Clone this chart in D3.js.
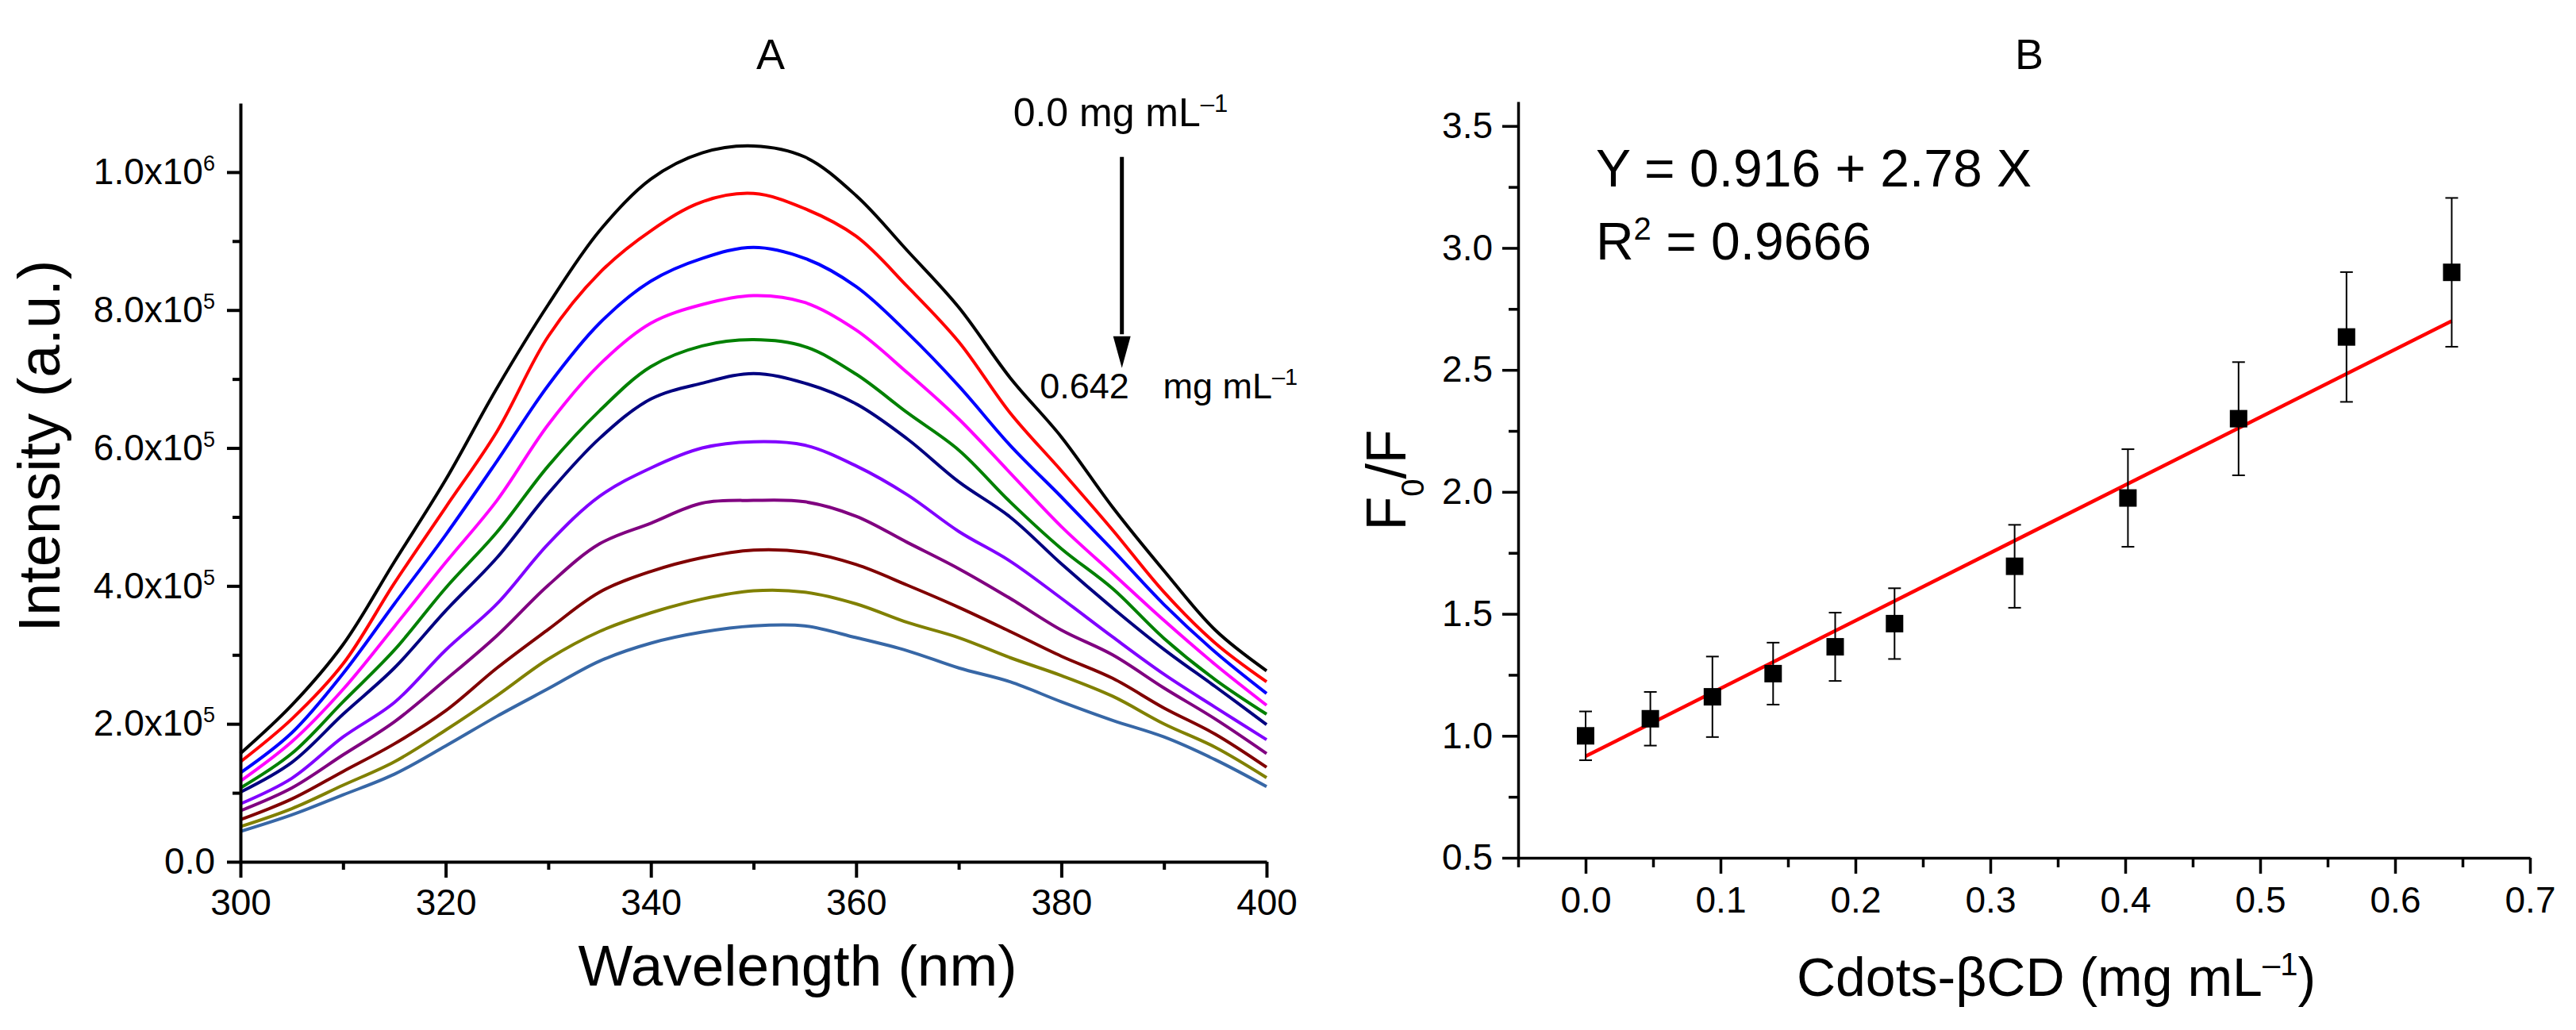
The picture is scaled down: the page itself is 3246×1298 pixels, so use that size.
<!DOCTYPE html>
<html>
<head>
<meta charset="utf-8">
<title>Fluorescence quenching by Cdots-βCD</title>
<script src="https://cdn.jsdelivr.net/npm/d3@7"></script>
<style>
  html, body { margin: 0; padding: 0; background: #fff; }
  svg { display: block; }
</style>
</head>
<body>
<svg id="chart"></svg>
<script>
// ---- panel A: emission spectra (intensity in units of 1e5) ----
var wavelengths = [300, 305, 310, 315, 320, 325, 330, 335, 340, 345, 350,
                   355, 360, 365, 370, 375, 380, 385, 390, 395, 400];

var spectrum000 = [1.57, 2.27, 3.15, 4.35, 5.54, 6.87, 8.08, 9.15, 9.90, 10.28, 10.38, 10.22, 9.66, 8.86, 8.04, 7.02, 6.16, 5.14, 4.22, 3.36, 2.77];
var spectrum048 = [1.45, 2.07, 2.87, 4.04, 5.14, 6.24, 7.62, 8.54, 9.15, 9.57, 9.69, 9.47, 9.07, 8.34, 7.54, 6.51, 5.67, 4.81, 3.91, 3.17, 2.61];
var spectrum094 = [1.29, 1.87, 2.73, 3.74, 4.74, 5.81, 6.91, 7.81, 8.42, 8.75, 8.91, 8.75, 8.34, 7.67, 6.90, 6.04, 5.29, 4.52, 3.73, 3.04, 2.44];
var spectrum139 = [1.17, 1.74, 2.50, 3.41, 4.34, 5.24, 6.34, 7.21, 7.81, 8.08, 8.21, 8.11, 7.71, 7.09, 6.42, 5.64, 4.86, 4.18, 3.50, 2.86, 2.27];
var spectrum185 = [1.07, 1.57, 2.32, 3.07, 3.97, 4.78, 5.74, 6.54, 7.18, 7.48, 7.57, 7.47, 7.07, 6.51, 5.97, 5.22, 4.54, 3.96, 3.24, 2.64, 2.14];
var spectrum229 = [1.01, 1.44, 2.14, 2.81, 3.64, 4.41, 5.34, 6.14, 6.71, 6.94, 7.08, 6.94, 6.64, 6.13, 5.51, 5.00, 4.32, 3.68, 3.08, 2.54, 1.99];
var spectrum318 = [0.84, 1.21, 1.81, 2.31, 3.07, 3.74, 4.61, 5.30, 5.71, 6.00, 6.09, 6.04, 5.74, 5.32, 4.79, 4.36, 3.82, 3.26, 2.72, 2.24, 1.77];
var spectrum402 = [0.74, 1.07, 1.55, 2.03, 2.64, 3.28, 4.01, 4.61, 4.91, 5.20, 5.24, 5.22, 5.01, 4.63, 4.25, 3.82, 3.36, 3.00, 2.52, 2.07, 1.57];
var spectrum484 = [0.61, 0.91, 1.31, 1.71, 2.19, 2.81, 3.37, 3.91, 4.21, 4.41, 4.52, 4.49, 4.31, 4.01, 3.69, 3.34, 2.98, 2.66, 2.23, 1.85, 1.37];
var spectrum564 = [0.51, 0.77, 1.11, 1.45, 1.91, 2.41, 2.94, 3.34, 3.61, 3.81, 3.93, 3.91, 3.74, 3.47, 3.25, 2.96, 2.70, 2.40, 2.00, 1.66, 1.22];
var spectrum642 = [0.44, 0.68, 0.97, 1.27, 1.68, 2.11, 2.51, 2.91, 3.17, 3.33, 3.42, 3.42, 3.25, 3.06, 2.81, 2.61, 2.32, 2.05, 1.81, 1.48, 1.09];

var spectra = [spectrum000, spectrum048, spectrum094, spectrum139, spectrum185, spectrum229,
               spectrum318, spectrum402, spectrum484, spectrum564, spectrum642];
var spectrumColors = ['#000000', '#ff0000', '#0000ff', '#ff00ff', '#008000', '#000080',
                      '#8000ff', '#800080', '#800000', '#808000', '#3767a6'];

var intensityTicks = [0, 2e5, 4e5, 6e5, 8e5, 1e6];
var intensityMinor = [1e5, 3e5, 5e5, 7e5, 9e5];
var wavelengthTicks = [300, 320, 340, 360, 380, 400];
var wavelengthMinor = [310, 330, 350, 370, 390];

// ---- panel B: Stern-Volmer plot ----
var concentrations = [0, 0.048, 0.094, 0.139, 0.185, 0.229, 0.318, 0.402, 0.484, 0.564, 0.642];
var quenchRatio    = [1.00, 1.07, 1.16, 1.255, 1.365, 1.46, 1.695, 1.975, 2.30, 2.635, 2.90];
var quenchError    = [0.10, 0.11, 0.165, 0.127, 0.14, 0.145, 0.17, 0.20, 0.232, 0.266, 0.305];
var fitIntercept = 0.916;
var fitSlope = 2.78;

var ratioTicks = [0.5, 1.0, 1.5, 2.0, 2.5, 3.0, 3.5];
var ratioMinor = [0.75, 1.25, 1.75, 2.25, 2.75, 3.25];
var concTicks = [0, 0.1, 0.2, 0.3, 0.4, 0.5, 0.6, 0.7];
var concMinor = [-0.05, 0.05, 0.15, 0.25, 0.35, 0.45, 0.55, 0.65];

(function() {
  'use strict';
  var W = 3246, H = 1298,
    font = "'Liberation Sans', Arial, Helvetica, sans-serif",
    svg, xA, yA, xB, yB;

  svg = d3.select('#chart')
    .attr('width', W)
    .attr('height', H)
    .attr('font-family', font);

  svg.append('rect').attr('width', W).attr('height', H).attr('fill', '#fff');

  spectraPanel();
  sternVolmerPanel();

  function styleAxis(g, width, size) {
    g.attr('font-family', font).attr('font-size', size);
    g.selectAll('path, line').attr('stroke', '#000').attr('stroke-width', width);
    g.selectAll('text').attr('fill', '#000');
  }

  function minorAxis(axis, values, g, width) {
    g.call(axis.tickValues(values).tickFormat('').tickSizeOuter(0));
    g.select('.domain').remove();
    g.selectAll('line').attr('stroke', '#000').attr('stroke-width', width);
  }

  function sciLabels(g) {
    g.selectAll('.tick text').each(function(d) {
      var t = d3.select(this), exp, mant;
      if (d === 0) {
        t.text('0.0');
        return;
      }
      exp = Math.floor(Math.log10(d) + 1e-9);
      mant = d / Math.pow(10, exp);
      t.text(null);
      t.append('tspan').text(mant.toFixed(1) + 'x10');
      t.append('tspan').attr('dy', -17).attr('font-size', 27).text(exp);
    });
  }

  function spectraPanel() {
    var g = svg.append('g'), line, gx, gy;

    xA = d3.scaleLinear().domain([300, 400]).range([303, 1596]);
    yA = d3.scaleLinear().domain([0, 1.1e6]).range([1086, 130]);

    line = d3.line()
      .x(function(d, i) { return xA(wavelengths[i]); })
      .y(function(d) { return yA(d * 1e5); })
      .curve(d3.curveCatmullRom.alpha(0.5));

    // draw lowest first so the black curve ends on top
    g.selectAll('path.spectrum')
        .data(spectra.slice().reverse())
      .enter().append('path')
        .attr('class', 'spectrum')
        .attr('fill', 'none')
        .attr('stroke', function(d, i) { return spectrumColors[spectra.length - 1 - i]; })
        .attr('stroke-width', 4)
        .attr('stroke-linejoin', 'round')
        .attr('d', line);

    minorAxis(d3.axisBottom(xA).tickSize(10), wavelengthMinor,
      g.append('g').attr('transform', 'translate(0,' + yA(0) + ')'), 4);
    minorAxis(d3.axisLeft(yA).tickSize(10), intensityMinor,
      g.append('g').attr('transform', 'translate(' + xA(300) + ',0)'), 4);

    gx = g.append('g')
        .attr('transform', 'translate(0,' + yA(0) + ')')
        .call(d3.axisBottom(xA).tickValues(wavelengthTicks).tickFormat(d3.format('d'))
          .tickSizeInner(20).tickSizeOuter(0).tickPadding(14));
    styleAxis(gx, 4, 46);

    gy = g.append('g')
        .attr('transform', 'translate(' + xA(300) + ',0)')
        .call(d3.axisLeft(yA).tickValues(intensityTicks)
          .tickSizeInner(17).tickSizeOuter(0).tickPadding(15));
    styleAxis(gy, 4, 46);
    sciLabels(gy);

    g.append('text')
        .attr('x', 971).attr('y', 87)
        .attr('text-anchor', 'middle').attr('font-size', 54)
        .text('A');

    g.append('text')
        .attr('x', 1005).attr('y', 1242)
        .attr('text-anchor', 'middle').attr('font-size', 73)
        .text('Wavelength (nm)');

    g.append('text')
        .attr('transform', 'translate(75,562) rotate(-90)')
        .attr('text-anchor', 'middle').attr('font-size', 74)
        .text('Intensity (a.u.)');

    // concentration arrow
    var ax = xA(385.9);
    g.append('line')
        .attr('x1', ax).attr('x2', ax)
        .attr('y1', yA(1.022e6)).attr('y2', yA(0.765e6))
        .attr('stroke', '#000').attr('stroke-width', 5);
    g.append('path')
        .attr('d', 'M' + (ax - 11) + ',' + yA(0.762e6) + 'L' + (ax + 11) + ',' + yA(0.762e6) +
          'L' + ax + ',' + yA(0.716e6) + 'Z')
        .attr('fill', '#000');

    var top = g.append('text')
        .attr('x', xA(375.3)).attr('y', yA(1.067e6))
        .attr('font-size', 50);
    top.append('tspan').text('0.0 mg mL');
    top.append('tspan').attr('dy', -18).attr('font-size', 31).text('\u20131');

    g.append('text')
        .attr('x', xA(377.9)).attr('y', yA(0.672e6))
        .attr('font-size', 45)
        .text('0.642');
    var bottom = g.append('text')
        .attr('x', xA(389.9)).attr('y', yA(0.672e6))
        .attr('font-size', 45);
    bottom.append('tspan').text('mg mL');
    bottom.append('tspan').attr('dy', -17).attr('font-size', 29).text('\u20131');
  }

  function sternVolmerPanel() {
    var g = svg.append('g'), gx, gy, pts, eq1, eq2, ylab, xlab, half = 11, cap = 8;

    xB = d3.scaleLinear().domain([-0.05, 0.7]).range([1913, 3188]);
    yB = d3.scaleLinear().domain([0.5, 3.6]).range([1081, 128]);

    minorAxis(d3.axisBottom(xB).tickSize(12), concMinor,
      g.append('g').attr('transform', 'translate(0,' + yB(0.5) + ')'), 3.5);
    minorAxis(d3.axisLeft(yB).tickSize(12), ratioMinor,
      g.append('g').attr('transform', 'translate(' + xB(-0.05) + ',0)'), 3.5);

    gx = g.append('g')
        .attr('transform', 'translate(0,' + yB(0.5) + ')')
        .call(d3.axisBottom(xB).tickValues(concTicks).tickFormat(d3.format('.1f'))
          .tickSizeInner(20).tickSizeOuter(0).tickPadding(16));
    styleAxis(gx, 3.5, 46);

    gy = g.append('g')
        .attr('transform', 'translate(' + xB(-0.05) + ',0)')
        .call(d3.axisLeft(yB).tickValues(ratioTicks).tickFormat(d3.format('.1f'))
          .tickSizeInner(20).tickSizeOuter(0).tickPadding(12));
    styleAxis(gy, 3.5, 46);

    // linear fit
    var xFit = d3.extent(concentrations);
    g.append('line')
        .attr('x1', xB(xFit[0])).attr('y1', yB(fitIntercept + fitSlope * xFit[0]))
        .attr('x2', xB(xFit[1])).attr('y2', yB(fitIntercept + fitSlope * xFit[1]))
        .attr('stroke', '#ff0000').attr('stroke-width', 4.5);

    pts = g.selectAll('g.pt')
        .data(concentrations)
      .enter().append('g')
        .attr('class', 'pt');

    pts.append('line')
        .attr('x1', function(d) { return xB(d); })
        .attr('x2', function(d) { return xB(d); })
        .attr('y1', function(d, i) { return yB(quenchRatio[i] + quenchError[i]); })
        .attr('y2', function(d, i) { return yB(quenchRatio[i] - quenchError[i]); })
        .attr('stroke', '#000').attr('stroke-width', 2);
    [1, -1].forEach(function(sign) {
      pts.append('line')
          .attr('x1', function(d) { return xB(d) - cap; })
          .attr('x2', function(d) { return xB(d) + cap; })
          .attr('y1', function(d, i) { return yB(quenchRatio[i] + sign * quenchError[i]); })
          .attr('y2', function(d, i) { return yB(quenchRatio[i] + sign * quenchError[i]); })
          .attr('stroke', '#000').attr('stroke-width', 2);
    });
    pts.append('rect')
        .attr('x', function(d) { return xB(d) - half; })
        .attr('y', function(d, i) { return yB(quenchRatio[i]) - half; })
        .attr('width', half * 2).attr('height', half * 2)
        .attr('fill', '#000');

    eq1 = g.append('text')
        .attr('x', xB(0.0076)).attr('y', yB(3.252))
        .attr('font-size', 66)
        .text('Y = ' + fitIntercept + ' + ' + fitSlope + ' X');
    eq2 = g.append('text')
        .attr('x', xB(0.0076)).attr('y', yB(2.953))
        .attr('font-size', 66);
    eq2.append('tspan').text('R');
    eq2.append('tspan').attr('dy', -25).attr('font-size', 40).text('2');
    eq2.append('tspan').attr('dy', 25).text(' = 0.9666');

    g.append('text')
        .attr('x', 2557).attr('y', 87)
        .attr('text-anchor', 'middle').attr('font-size', 54)
        .text('B');

    xlab = g.append('text')
        .attr('x', 2591).attr('y', 1255)
        .attr('text-anchor', 'middle').attr('font-size', 68);
    xlab.append('tspan').text('Cdots-\u03b2CD (mg mL');
    xlab.append('tspan').attr('dy', -26).attr('font-size', 40).text('\u20131');
    xlab.append('tspan').attr('dy', 26).text(')');

    ylab = g.append('text')
        .attr('transform', 'translate(1771,605) rotate(-90)')
        .attr('text-anchor', 'middle').attr('font-size', 70);
    ylab.append('tspan').text('F');
    ylab.append('tspan').attr('dy', 23).attr('font-size', 40).text('0');
    ylab.append('tspan').attr('dy', -23).text('/F');
  }
}());
</script>
</body>
</html>
